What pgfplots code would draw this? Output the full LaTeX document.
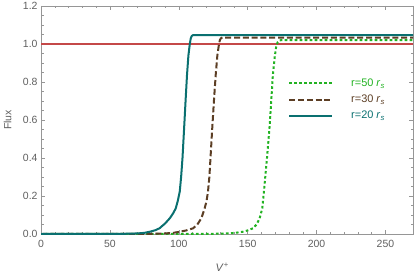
\documentclass[border=0pt]{standalone}
\usepackage{fontspec}
\setmainfont{Liberation Sans}
\usepackage{pgfplots}
\pgfplotsset{compat=1.18}
\definecolor{cteal}{RGB}{10,112,112}
\definecolor{cbrown}{RGB}{92,62,36}
\definecolor{cgreen}{RGB}{34,178,34}
\definecolor{cred}{RGB}{196,72,72}
\definecolor{axgray}{RGB}{150,150,150}
\definecolor{lblgray}{RGB}{95,95,95}
\begin{document}
\begin{tikzpicture}
\begin{axis}[name=ax, scale only axis, width=372bp, height=228bp,
  xmin=0, xmax=270, ymin=0, ymax=1.2,
  xtick={0,50,100,150,200,250}, ytick={0,0.2,0.4,0.6,0.8,1.0,1.2},
  minor x tick num=4, minor y tick num=3,
  tick align=inside, major tick length=4bp, minor tick length=2.5bp,
  axis line style={draw=axgray, line width=0.6pt},
  every tick/.style={draw=axgray, line width=0.5pt},
  /pgf/number format/assume math mode=true,
  tick label style={font=\fontsize{10.5}{12}\selectfont, text=lblgray},
  xticklabel style={yshift=-3bp},
  yticklabel style={/pgf/number format/fixed, /pgf/number format/fixed zerofill, /pgf/number format/precision=1},
  every axis x label/.style={at={(axis description cs:0.487,0)}, anchor=center, yshift=-33bp, font=\fontsize{11}{13}\selectfont, text=lblgray},
  every axis y label/.style={at={(axis description cs:-0.09,0.5)}, anchor=center, rotate=90, font=\fontsize{10.5}{12}\selectfont, text=lblgray},
  xlabel={\textit{V}\textsuperscript{+}}, ylabel={Flux},
  legend cell align=left,
  legend image code/.code={\draw[#1] (0bp,0bp) -- (43bp,0bp);},
  legend style={at={(rel axis cs:0.664,0.69)}, anchor=north west, draw=none, fill=none, inner sep=0pt,
    font=\fontsize{11}{13}\selectfont, row sep=3bp,
    /tikz/every odd column/.append style={column sep=16bp}},
]
\addplot[cred, line width=1.3bp, forget plot] coordinates {(0,1) (270,1)};
\addplot[cgreen, line width=2bp, dash pattern=on 2.6bp off 2.4bp, line join=round] coordinates {
(0,0) (100,0.0002) (125,0.001) (135,0.003) (141,0.006) (146.6,0.012) (150.5,0.02) (153.8,0.03) (156.5,0.05) (158.7,0.083) (160.6,0.135) (161.8,0.223) (162.9,0.31) (164,0.398) (166,0.574) (167.2,0.71) (168.3,0.837) (169.6,0.93) (170.8,0.99) (171.8,1.01) (172.8,1.018) (174,1.02) (270,1.02)};
\addlegendentry{\textcolor{cgreen}{r=50 \textit{r}\textsubscript{\textit{s}}}}
\addplot[cbrown, line width=2bp, dash pattern=on 6bp off 2.8bp, line join=round] coordinates {
(0,0) (60,0.0002) (80,0.001) (90,0.003) (96,0.006) (100.7,0.012) (105,0.018) (110.4,0.03) (113.5,0.05) (116.4,0.083) (118.8,0.135) (120.2,0.175) (121.2,0.223) (122.2,0.30) (123,0.398) (124.4,0.57) (125.6,0.71) (126.8,0.837) (128,0.94) (129.2,1.0) (129.9,1.022) (130.7,1.031) (131.7,1.034) (270,1.034)};
\addlegendentry{\textcolor{cbrown}{r=30 \textit{r}\textsubscript{\textit{s}}}}
\addplot[cteal, line width=2bp, line join=round] coordinates {
(0,0) (40,0.0003) (60,0.001) (70,0.003) (75,0.006) (79,0.012) (83,0.02) (86,0.03) (90,0.055) (93.5,0.083) (96,0.11) (97.8,0.135) (99.3,0.175) (100.7,0.223) (101.7,0.30) (102.7,0.40) (103.9,0.56) (105,0.71) (106,0.84) (107,0.94) (108,1.0) (108.7,1.03) (109.5,1.043) (110.5,1.047) (270,1.047)};
\addlegendentry{\textcolor{cteal}{r=20 \textit{r}\textsubscript{\textit{s}}}}
\end{axis}
\pgfresetboundingbox
\path ([shift={(-41bp,-43bp)}]ax.south west) rectangle ([shift={(2bp,6bp)}]ax.north east);
\end{tikzpicture}
\end{document}
